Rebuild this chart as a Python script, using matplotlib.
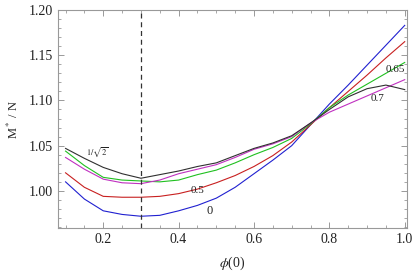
import matplotlib
matplotlib.use("Agg")
import matplotlib.pyplot as plt
from matplotlib.ticker import MultipleLocator, FormatStrFormatter

plt.rcParams['font.family'] = ['Liberation Serif', 'DejaVu Serif']
plt.rcParams['mathtext.fontset'] = 'stix'

phi = [0.1, 0.15, 0.2, 0.25, 0.3, 0.35, 0.4, 0.45, 0.5, 0.55, 0.6, 0.65,
       0.7, 0.75, 0.8, 0.85, 0.9, 0.95, 1.0]

m_0 = [1.010, 0.991, 0.978, 0.974, 0.972, 0.973, 0.978, 0.984, 0.992, 1.004,
       1.019, 1.034, 1.050, 1.073, 1.096, 1.117, 1.139, 1.161, 1.183]
m_05 = [1.020, 1.004, 0.994, 0.993, 0.993, 0.994, 0.997, 1.002, 1.009, 1.017,
        1.027, 1.039, 1.054, 1.073, 1.092, 1.110, 1.128, 1.147, 1.165]
m_065 = [1.044, 1.028, 1.015, 1.012, 1.011, 1.010, 1.012, 1.018, 1.023, 1.031,
         1.040, 1.048, 1.058, 1.074, 1.092, 1.106, 1.118, 1.130, 1.142]
m_07 = [1.037, 1.024, 1.013, 1.009, 1.008, 1.012, 1.019, 1.024, 1.029, 1.037,
        1.046, 1.052, 1.060, 1.075, 1.087, 1.096, 1.105, 1.114, 1.123]
m_isq2 = [1.047, 1.036, 1.026, 1.019, 1.014, 1.018, 1.022, 1.027, 1.031, 1.039,
          1.047, 1.053, 1.061, 1.075, 1.090, 1.104, 1.113, 1.117, 1.112]

series = [m_0, m_05, m_065, m_07, m_isq2]
colors = ['#2020d0', '#c82020', '#20c020', '#c030c0', '#303030']

labels = [r'$1/\sqrt{2}$', '0.5', '0', '0.65', '0.7']
label_x = [0.184, 0.449, 0.481, 0.975, 0.929]
label_y = [1.0433, 1.001, 0.978, 1.134, 1.102]
label_size = [6, 8, 9, 8, 8]

fig = plt.figure(figsize=(4.15, 2.76), dpi=100)
ax = fig.add_axes([0.1398, 0.1739, 0.8409, 0.7899])

for s, c in zip(series, colors):
    ax.plot(phi, s, color=c, lw=0.8)

ax.axvline(0.3, color='#333333', lw=0.9, ls=(0, (4, 3)))

for t, x, y, fs in zip(labels, label_x, label_y, label_size):
    ax.text(x, y, t, fontsize=fs, ha='center', va='center', color='#222222')

ax.set_xlim(0.08, 1.006)
ax.set_ylim(0.959, 1.20)

ax.xaxis.set_major_locator(MultipleLocator(0.2))
ax.xaxis.set_minor_locator(MultipleLocator(0.05))
ax.yaxis.set_major_locator(MultipleLocator(0.05))
ax.yaxis.set_minor_locator(MultipleLocator(0.01))
ax.xaxis.set_major_formatter(FormatStrFormatter('%.1f'))
ax.yaxis.set_major_formatter(FormatStrFormatter('%.2f'))

for sp in ax.spines.values():
    sp.set_color('#999999')
    sp.set_linewidth(0.8)

ax.tick_params(which='both', direction='in', top=True, right=True,
               color='#999999', labelsize=10, labelcolor='#222222')
ax.tick_params(which='major', length=4.5, width=0.7)
ax.tick_params(which='minor', length=2.5, width=0.6)

ax.set_xlabel(r'$\phi$(0)', fontsize=10, color='#222222', labelpad=6)
ax.set_ylabel(r'M$^*$ / N', fontsize=9, color='#222222', labelpad=6)

fig.savefig('out.png', dpi=100)
